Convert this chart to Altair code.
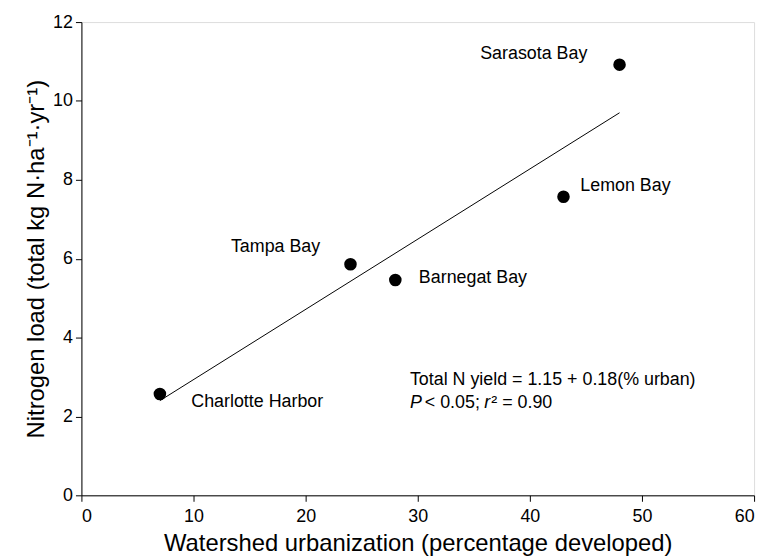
import altair as alt
import pandas as pd

# Data
bays = ["Charlotte Harbor", "Tampa Bay", "Barnegat Bay", "Lemon Bay", "Sarasota Bay"]
urban = [7, 24, 28, 43, 48]
nload = [2.57, 5.86, 5.46, 7.57, 10.92]

# Label anchor positions (data coords) and alignment
label_x = [9.8, 21.3, 30.1, 44.5, 40.35]
label_y = [2.36, 6.29, 5.51, 7.85, 11.19]
label_align = ["left", "right", "left", "left", "center"]

# Regression line endpoints
fit_x = [7, 48]
fit_y = [2.4, 9.7]

# Annotation
ann_x = 29.3
ann_y1 = 2.92
ann_y2 = 2.34

FONT = "Liberation Sans"

pts = pd.DataFrame({"bay": bays, "x": urban, "y": nload})
labs = pd.DataFrame({"bay": bays, "x": label_x, "y": label_y, "align": label_align})
fit = pd.DataFrame({"x": fit_x, "y": fit_y})

xscale = alt.Scale(domain=[0, 60], nice=False, zero=False)
yscale = alt.Scale(domain=[0, 12], nice=False, zero=False)

xaxis = alt.Axis(values=[0, 10, 20, 30, 40, 50, 60], title="Watershed urbanization (percentage developed)",
                 grid=False, domainColor="black", tickColor="black", tickSize=6,
                 labelFont=FONT, labelFontSize=18, labelColor="black", labelPadding=6,
                 titleFont=FONT, titleFontSize=24, titleFontWeight="normal", titleColor="black",
                 titlePadding=7)
yaxis = alt.Axis(values=[0, 2, 4, 6, 8, 10, 12], title="Nitrogen load (total kg N·ha⁻¹·yr⁻¹)",
                 grid=False, domainColor="black", tickColor="black", tickSize=6,
                 labelFont=FONT, labelFontSize=18, labelColor="black", labelPadding=3,
                 titleFont=FONT, titleFontSize=24, titleFontWeight="normal", titleColor="black",
                 titlePadding=4)

line = alt.Chart(fit).mark_line(color="black", strokeWidth=1).encode(
    x=alt.X("x:Q", scale=xscale, axis=xaxis),
    y=alt.Y("y:Q", scale=yscale, axis=yaxis),
)

points = alt.Chart(pts).mark_point(filled=True, color="black", opacity=1, size=160).encode(
    x=alt.X("x:Q", scale=xscale),
    y=alt.Y("y:Q", scale=yscale),
)

def labels_for(align):
    d = labs[labs["align"] == align]
    return alt.Chart(d).mark_text(align=align, baseline="middle", font=FONT, fontSize=18, color="black").encode(
        x=alt.X("x:Q", scale=xscale),
        y=alt.Y("y:Q", scale=yscale),
        text="bay:N",
    )

ann1 = alt.Chart(pd.DataFrame({"x": [ann_x], "y": [ann_y1], "t": ["Total N yield = 1.15 + 0.18(% urban)"]})).mark_text(
    align="left", baseline="middle", font=FONT, fontSize=18, color="black").encode(
    x=alt.X("x:Q", scale=xscale), y=alt.Y("y:Q", scale=yscale), text="t:N")

ann2_parts = [("P", "italic", 0), ("< 0.05;", "normal", 15), ("r", "italic", 75), ("² = 0.90", "normal", 82)]
ann2 = []
for t, style, dx in ann2_parts:
    ann2.append(alt.Chart(pd.DataFrame({"x": [ann_x], "y": [ann_y2], "t": [t]})).mark_text(
        align="left", baseline="middle", font=FONT, fontSize=18, color="black", fontStyle=style, dx=dx).encode(
        x=alt.X("x:Q", scale=xscale), y=alt.Y("y:Q", scale=yscale), text="t:N"))

chart = alt.layer(line, points, labels_for("left"), labels_for("right"), labels_for("center"), ann1, *ann2).properties(
    width=678, height=477,
    autosize=alt.AutoSizeParams(type="none"),
    padding={"left": 74, "top": 12, "right": 10, "bottom": 62},
).configure_view(stroke=None).configure(background="white")

chart.save("out.html", embed_options={"renderer": "svg", "actions": False})
